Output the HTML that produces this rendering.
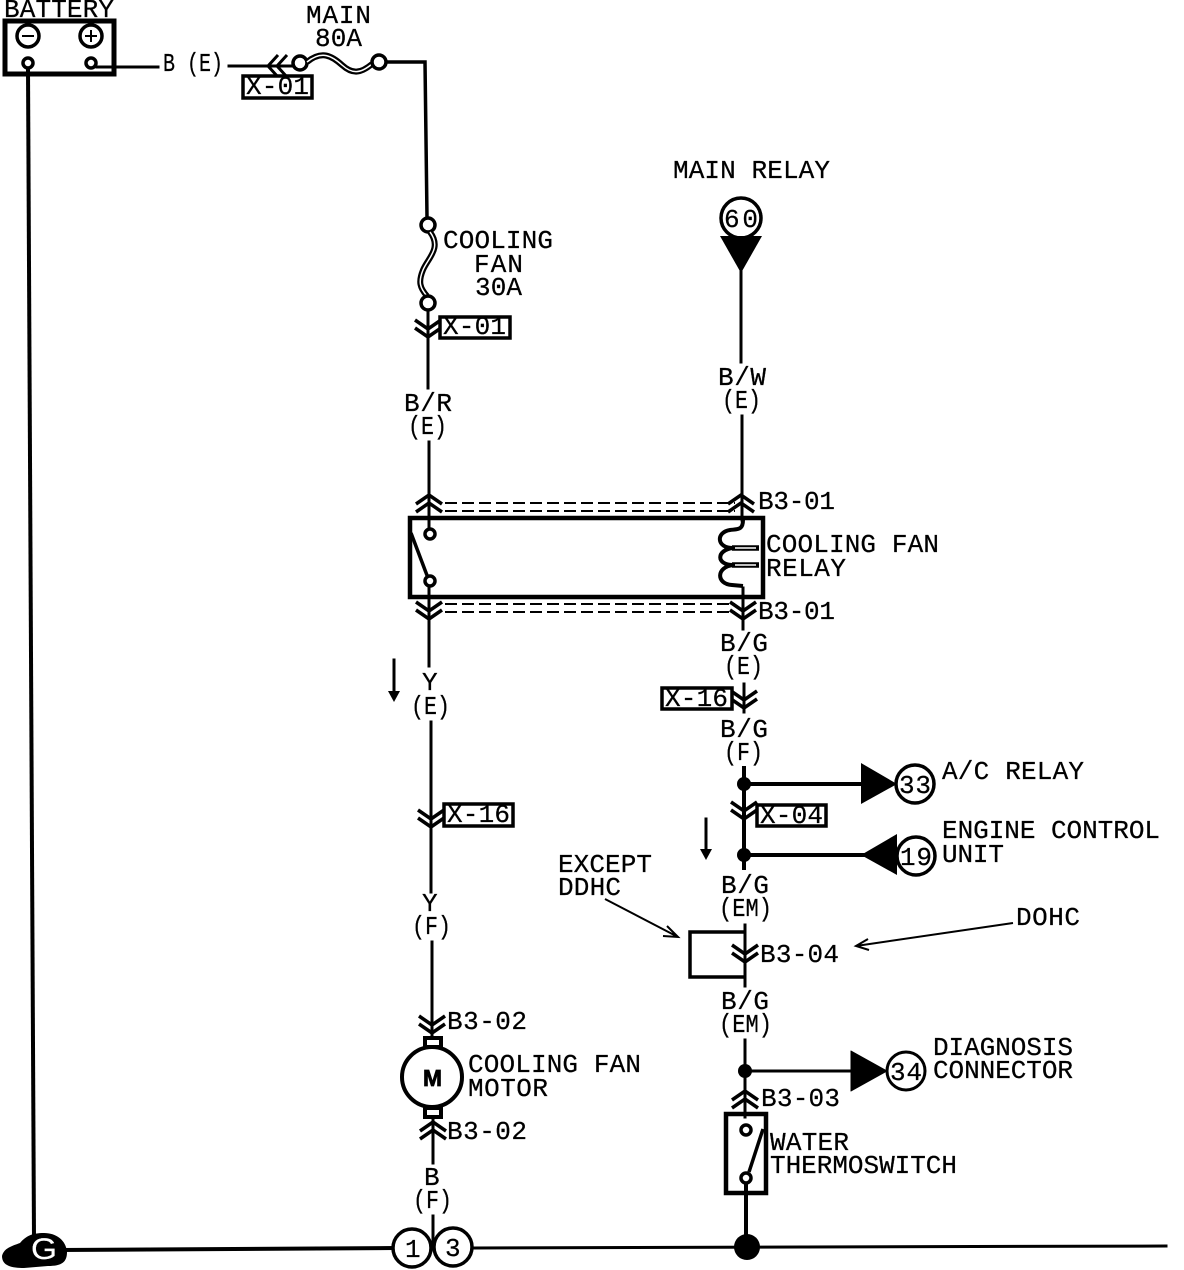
<!DOCTYPE html>
<html><head><meta charset="utf-8"><style>
html,body{margin:0;padding:0;background:#fff}
svg{display:block}
text{font-family:"Liberation Mono",monospace;font-size:26px;fill:#000;stroke:#000;stroke-width:.25px}
.w{fill:none;stroke:#000;stroke-linecap:square}
</style></head><body>
<svg width="1184" height="1270" viewBox="0 0 1184 1270" xmlns="http://www.w3.org/2000/svg">
<rect width="1184" height="1270" fill="#fff"/>
<defs>
<g id="up" fill="none" stroke="#000" stroke-width="3.5"><path d="M-13 9L0 0L13 9M-13 17L0 8L13 17"/></g>
<g id="dn" fill="none" stroke="#000" stroke-width="3.5"><path d="M-13-9L0 0L13-9M-13-17L0-8L13-17"/></g>
</defs>

<!-- battery -->
<rect x="5" y="21" width="109" height="53" fill="none" stroke="#000" stroke-width="5"/>
<circle cx="28" cy="36" r="11" fill="none" stroke="#000" stroke-width="3.5"/>
<path d="M22 36H34" stroke="#000" stroke-width="2"/>
<circle cx="91" cy="36" r="11" fill="none" stroke="#000" stroke-width="3.5"/>
<path d="M85 36H97M91 30V42" stroke="#000" stroke-width="2"/>
<circle cx="28" cy="63" r="5" fill="#fff" stroke="#000" stroke-width="3.5"/>
<circle cx="91" cy="63" r="5" fill="#fff" stroke="#000" stroke-width="3.5"/>
<path class="w" d="M97 67H158" stroke-width="3"/>
<path class="w" d="M28 69L34 1240" stroke-width="4"/>

<!-- top wire -->
<path class="w" d="M229 66H292" stroke-width="3"/>
<path d="M278 55L268 66L278 77M287 55L277 66L287 77" fill="none" stroke="#000" stroke-width="3"/>
<circle cx="300" cy="63" r="7" fill="#fff" stroke="#000" stroke-width="3.5"/>
<path d="M307 62C322 50 332 56 342 65C352 74 360 74 372 64" fill="none" stroke="#000" stroke-width="6"/>
<path d="M307 62C322 50 332 56 342 65C352 74 360 74 372 64" fill="none" stroke="#fff" stroke-width="1.5"/>
<circle cx="379" cy="62" r="7" fill="#fff" stroke="#000" stroke-width="3.5"/>
<path class="w" d="M387 62H425L427 217" stroke-width="3.5"/>
<rect x="243" y="76" width="69" height="22" fill="#fff" stroke="#000" stroke-width="3.5"/>

<!-- cooling fan fuse -->
<circle cx="428" cy="225" r="7" fill="#fff" stroke="#000" stroke-width="3.5"/>
<path d="M430 232C442 248 428 258 423 270C418 282 420 288 427 296" fill="none" stroke="#000" stroke-width="6"/>
<path d="M430 232C442 248 428 258 423 270C418 282 420 288 427 296" fill="none" stroke="#fff" stroke-width="1.5"/>
<circle cx="428" cy="303" r="7" fill="#fff" stroke="#000" stroke-width="3.5"/>
<path class="w" d="M428 311V388" stroke-width="3"/>
<use href="#dn" x="428" y="337"/>
<rect x="440" y="317" width="70" height="21" fill="#fff" stroke="#000" stroke-width="3.5"/>

<!-- left column -->
<path class="w" d="M429 442V530" stroke-width="3"/>
<use href="#up" x="429" y="495"/>
<circle cx="430" cy="534" r="5" fill="#fff" stroke="#000" stroke-width="3.5"/>
<path d="M411 533L428 578" stroke="#000" stroke-width="3.5" fill="none"/>
<circle cx="430" cy="581" r="5" fill="#fff" stroke="#000" stroke-width="3.5"/>
<path class="w" d="M429 587V666" stroke-width="3"/>
<use href="#dn" x="429" y="619"/>
<path class="w" d="M431 722V892" stroke-width="3"/>
<use href="#dn" x="431" y="827"/>
<rect x="444" y="804" width="69" height="22" fill="#fff" stroke="#000" stroke-width="3.5"/>
<path class="w" d="M432 942V1052" stroke-width="3"/>
<use href="#dn" x="432" y="1033"/>

<!-- motor -->
<rect x="425" y="1038" width="16" height="9" fill="#fff" stroke="#000" stroke-width="4"/>
<rect x="425" y="1108" width="16" height="9" fill="#fff" stroke="#000" stroke-width="4"/>
<circle cx="432" cy="1077" r="30" fill="#fff" stroke="#000" stroke-width="4"/>
<path class="w" d="M433 1118V1163" stroke-width="3"/>
<use href="#up" x="433" y="1122"/>
<path class="w" d="M433 1216V1248" stroke-width="3"/>

<!-- main relay -->
<circle cx="741" cy="218" r="20" fill="#fff" stroke="#000" stroke-width="3.5"/>
<path d="M720 236H762L741 273Z" fill="#000"/>
<path class="w" d="M741 272V362" stroke-width="3"/>
<path class="w" d="M742 416V520" stroke-width="3"/>
<use href="#up" x="741" y="495"/>

<!-- dashed shields -->
<path d="M445 503H735M445 511H735M445 604H735M445 612H735" fill="none" stroke="#000" stroke-width="2" stroke-dasharray="12 5"/>

<!-- relay box -->
<rect x="410" y="518" width="353" height="79" fill="none" stroke="#000" stroke-width="4.5"/>
<path d="M743 520C743 530 738 529 730 530C716 532 716 548 733 548C716 550 716 565 733 565C716 567 716 584 732 585L743 586" fill="none" stroke="#000" stroke-width="4"/>
<path d="M732 548H759M732 565H759" stroke="#000" stroke-width="5.5"/>
<path d="M735 548H756M735 565H756" stroke="#fff" stroke-width="1.6"/>
<path class="w" d="M743 588V629" stroke-width="3"/>
<use href="#dn" x="743" y="619"/>

<!-- right column -->
<path class="w" d="M744 684V712" stroke-width="3"/>
<use href="#dn" x="744" y="708"/>
<rect x="662" y="688" width="70" height="21" fill="#fff" stroke="#000" stroke-width="3.5"/>
<path class="w" d="M744 768V868" stroke-width="4"/>
<circle cx="744" cy="784" r="7"/>
<circle cx="744" cy="855" r="7"/>
<use href="#dn" x="744" y="819"/>
<rect x="757" y="805" width="69" height="21" fill="#fff" stroke="#000" stroke-width="3.5"/>
<path class="w" d="M744 784H865M744 855H865" stroke-width="4"/>
<path d="M861 763L897 784L861 804Z" fill="#000"/>
<circle cx="915" cy="784" r="19" fill="#fff" stroke="#000" stroke-width="3.5"/>
<path d="M897 834L861 855L897 875Z" fill="#000"/>
<circle cx="916" cy="856" r="19" fill="#fff" stroke="#000" stroke-width="3.5"/>

<!-- arrows down -->
<path class="w" d="M394 660V692" stroke-width="3"/><path d="M388 691H400L394 702Z" fill="#000"/>
<path class="w" d="M706 819V850" stroke-width="3"/><path d="M700 849H712L706 860Z" fill="#000"/>

<!-- except box -->
<path d="M745 932H690V977H745" fill="none" stroke="#000" stroke-width="3.5"/>
<path class="w" d="M745 925V986" stroke-width="3"/>
<use href="#dn" x="745" y="962"/>
<path d="M605 899L678 937M667 926L678 937L663 936" fill="none" stroke="#000" stroke-width="2"/>
<path d="M1013 923L856 946M868 939L856 946L869 950" fill="none" stroke="#000" stroke-width="2"/>

<!-- lower right -->
<path class="w" d="M745 1040V1117" stroke-width="3"/>
<circle cx="745" cy="1071" r="7"/>
<path class="w" d="M745 1071H855" stroke-width="3"/>
<path d="M851 1051L887 1071L851 1091Z" fill="#000" stroke="#000" stroke-linejoin="round"/>
<circle cx="906" cy="1071" r="19" fill="#fff" stroke="#000" stroke-width="3"/>
<use href="#up" x="745" y="1091"/>
<rect x="726" y="1114" width="40" height="79" fill="none" stroke="#000" stroke-width="4.5"/>
<circle cx="746" cy="1130" r="5" fill="#fff" stroke="#000" stroke-width="3.5"/>
<path d="M763 1129L749 1172" stroke="#000" stroke-width="3.5"/>
<circle cx="746" cy="1178" r="5" fill="#fff" stroke="#000" stroke-width="3.5"/>
<path class="w" d="M746 1184V1240" stroke-width="4"/>
<circle cx="747" cy="1247" r="13"/>

<!-- ground -->
<path class="w" d="M60 1250L393 1248" stroke-width="4"/>
<path class="w" d="M472 1248L1166 1246" stroke-width="3"/>
<circle cx="412" cy="1248" r="19" fill="#fff" stroke="#000" stroke-width="3.5"/>
<circle cx="453" cy="1247" r="19" fill="#fff" stroke="#000" stroke-width="3.5"/>
<path d="M2 1256C4 1248 12 1246 20 1243C26 1236 32 1233 44 1233C56 1233 66 1240 67 1252C67 1262 62 1266 48 1266L24 1268C12 1268 2 1266 2 1256Z" fill="#000"/>
<text x="31" y="1259" textLength="26" lengthAdjust="spacingAndGlyphs" style="font-family:'Liberation Sans',sans-serif;font-size:30px;fill:#fff;stroke:#fff;stroke-width:.2px">G</text>

<!-- labels -->
<text x="4" y="17" textLength="110" lengthAdjust="spacing">BATTERY</text>
<text x="306" y="23" textLength="65" lengthAdjust="spacing">MAIN</text>
<text x="315" y="46" textLength="47" lengthAdjust="spacing">80A</text>
<text x="163" y="71" textLength="60" lengthAdjust="spacingAndGlyphs">B (E)</text>
<text x="246" y="94" textLength="63" lengthAdjust="spacing">X-01</text>
<text x="443" y="248" textLength="110" lengthAdjust="spacing">COOLING</text>
<text x="474" y="272" textLength="49" lengthAdjust="spacing">FAN</text>
<text x="475" y="295" textLength="47" lengthAdjust="spacing">30A</text>
<text x="443" y="334" textLength="63" lengthAdjust="spacing">X-01</text>
<text x="404" y="411" textLength="48" lengthAdjust="spacing">B/R</text>
<text x="408" y="434" textLength="39" lengthAdjust="spacingAndGlyphs">(E)</text>
<text x="673" y="178" textLength="157" lengthAdjust="spacing">MAIN RELAY</text>
<text x="724" y="227" textLength="34" lengthAdjust="spacing">60</text>
<text x="718" y="385" textLength="48" lengthAdjust="spacing">B/W</text>
<text x="722" y="408" textLength="39" lengthAdjust="spacingAndGlyphs">(E)</text>
<text x="758" y="509" textLength="77" lengthAdjust="spacing">B3-01</text>
<text x="766" y="552" textLength="173" lengthAdjust="spacing">COOLING FAN</text>
<text x="766" y="576" textLength="80" lengthAdjust="spacing">RELAY</text>
<text x="758" y="619" textLength="77" lengthAdjust="spacing">B3-01</text>
<text x="720" y="651" textLength="48" lengthAdjust="spacing">B/G</text>
<text x="724" y="674" textLength="39" lengthAdjust="spacingAndGlyphs">(E)</text>
<text x="665" y="706" textLength="63" lengthAdjust="spacing">X-16</text>
<text x="720" y="737" textLength="48" lengthAdjust="spacing">B/G</text>
<text x="724" y="760" textLength="39" lengthAdjust="spacingAndGlyphs">(F)</text>
<text x="422" y="690" textLength="16" lengthAdjust="spacing">Y</text>
<text x="411" y="714" textLength="39" lengthAdjust="spacingAndGlyphs">(E)</text>
<text x="447" y="822" textLength="63" lengthAdjust="spacing">X-16</text>
<text x="422" y="911" textLength="16" lengthAdjust="spacing">Y</text>
<text x="412" y="934" textLength="39" lengthAdjust="spacingAndGlyphs">(F)</text>
<text x="447" y="1029" textLength="80" lengthAdjust="spacing">B3-02</text>
<text x="447" y="1139" textLength="80" lengthAdjust="spacing">B3-02</text>
<text x="468" y="1072" textLength="173" lengthAdjust="spacing">COOLING FAN</text>
<text x="468" y="1096" textLength="80" lengthAdjust="spacing">MOTOR</text>
<text x="423" y="1086" textLength="19" lengthAdjust="spacingAndGlyphs" style="font-family:'Liberation Sans',sans-serif;font-size:23px;font-weight:bold;stroke-width:.8px">M</text>
<text x="424" y="1185" textLength="16" lengthAdjust="spacing">B</text>
<text x="413" y="1208" textLength="39" lengthAdjust="spacingAndGlyphs">(F)</text>
<text x="405" y="1257" textLength="15" lengthAdjust="spacing">1</text>
<text x="445" y="1256" textLength="15" lengthAdjust="spacing">3</text>
<text x="942" y="779" textLength="142" lengthAdjust="spacing">A/C RELAY</text>
<text x="899" y="793" textLength="32" lengthAdjust="spacing">33</text>
<text x="942" y="838" textLength="218" lengthAdjust="spacing">ENGINE CONTROL</text>
<text x="942" y="862" textLength="62" lengthAdjust="spacing">UNIT</text>
<text x="900" y="865" textLength="32" lengthAdjust="spacing">19</text>
<text x="760" y="823" textLength="63" lengthAdjust="spacing">X-04</text>
<text x="558" y="872" textLength="94" lengthAdjust="spacing">EXCEPT</text>
<text x="558" y="895" textLength="63" lengthAdjust="spacing">DDHC</text>
<text x="721" y="893" textLength="48" lengthAdjust="spacing">B/G</text>
<text x="719" y="916" textLength="53" lengthAdjust="spacingAndGlyphs">(EM)</text>
<text x="1016" y="925" textLength="64" lengthAdjust="spacing">DOHC</text>
<text x="760" y="962" textLength="79" lengthAdjust="spacing">B3-04</text>
<text x="721" y="1009" textLength="48" lengthAdjust="spacing">B/G</text>
<text x="719" y="1032" textLength="53" lengthAdjust="spacingAndGlyphs">(EM)</text>
<text x="933" y="1055" textLength="140" lengthAdjust="spacing">DIAGNOSIS</text>
<text x="933" y="1078" textLength="140" lengthAdjust="spacing">CONNECTOR</text>
<text x="890" y="1080" textLength="32" lengthAdjust="spacing">34</text>
<text x="761" y="1106" textLength="79" lengthAdjust="spacing">B3-03</text>
<text x="770" y="1150" textLength="79" lengthAdjust="spacing">WATER</text>
<text x="770" y="1173" textLength="187" lengthAdjust="spacing">THERMOSWITCH</text>
</svg>
</body></html>
